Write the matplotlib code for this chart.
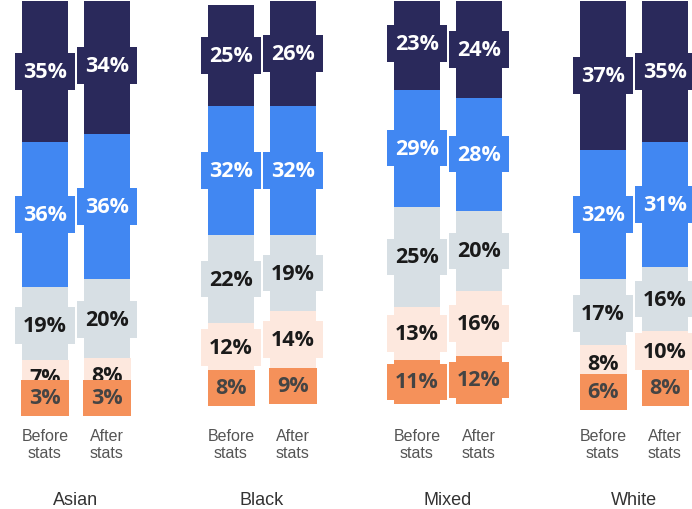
import matplotlib
matplotlib.use("Agg")
import matplotlib.pyplot as plt
import numpy as np

# Share of each segment (%), stacked from bottom to top
groups = ["Asian", "Black", "Mixed", "White"]
bar_labels = ["Before\nstats", "After\nstats"]

# [before, after] for each group, per segment (bottom -> top)
seg1 = [[3, 3], [8, 9], [11, 12], [6, 8]]
seg2 = [[7, 8], [12, 14], [13, 16], [8, 10]]
seg3 = [[19, 20], [22, 19], [25, 20], [17, 16]]
seg4 = [[36, 36], [32, 32], [29, 28], [32, 31]]
seg5 = [[35, 34], [25, 26], [23, 24], [37, 35]]

colors = ["#f5915a", "#fde8de", "#d7dfe4", "#4187f2", "#2a295b"]
text_colors = ["#444444", "#1a1a1a", "#1a1a1a", "white", "white"]

plt.rcParams["font.family"] = ["Open Sans", "DejaVu Sans"]

fig = plt.figure(figsize=(6.92, 5.10), dpi=100)
ax = fig.add_axes([0, 105 / 510, 1, 403 / 510])

segments = [np.array(s) for s in (seg1, seg2, seg3, seg4, seg5)]
group_gap = 3
xs = []
for g in range(len(groups)):
    xs.extend([g * group_gap, g * group_gap + 1])
xs = np.array(xs)
width = 0.73

bottom = np.zeros(len(xs))
centers = []
for k, seg in enumerate(segments):
    vals = seg.flatten()
    ax.bar(xs, vals, width=width, bottom=bottom, color=colors[k], edgecolor="none", zorder=2)
    centers.append(bottom + vals / 2)
    bottom = bottom + vals

# labels, drawn top segment first so lower boxes sit above
for k in reversed(range(len(segments))):
    vals = segments[k].flatten()
    for x, y, v in zip(xs, centers[k], vals):
        ax.text(x, y, f"{v}%", ha="center", va="center", fontsize=15.5,
                fontweight="bold", color=text_colors[k], zorder=3 + (4 - k),
                bbox=dict(boxstyle="square,pad=0.36", facecolor=colors[k], edgecolor="none"))

ax.set_xlim(-45 / 62, (692 - 45) / 62)
ax.set_ylim(0, 100)
ax.axis("off")

for x, lab in zip(xs, bar_labels * len(groups)):
    fig.text((x + 45 / 62) / (692 / 62), 1 - 445 / 510, lab, ha="center", va="center",
             fontsize=11.5, color="#555555", linespacing=1.1, family="Liberation Sans")
for g, name in enumerate(groups):
    xc = g * group_gap + 0.5
    fig.text((xc + 45 / 62) / (692 / 62), 1 - 501 / 510, name, ha="center", va="center",
             fontsize=13, color="#333333", family="Liberation Sans")

fig.savefig("out.png", dpi=100)
